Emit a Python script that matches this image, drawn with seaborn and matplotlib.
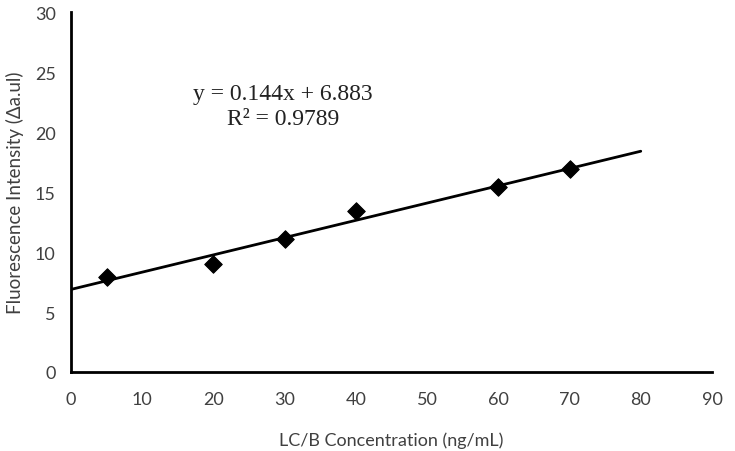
import matplotlib
matplotlib.use('Agg')
import matplotlib.pyplot as plt
import seaborn as sns
import pandas as pd
import numpy as np

# 数据
concentration = [5, 20, 30, 40, 60, 70]
intensity = [7.9, 9.0, 11.1, 13.45, 15.45, 16.9]
slope = 0.144
intercept = 6.883
r_squared = 0.9789
line_x = [0, 80]

sns.set_style('white')
plt.rcParams['font.family'] = ['Lato', 'DejaVu Sans']

df = pd.DataFrame({'x': concentration, 'y': intensity})
line_df = pd.DataFrame({'x': line_x, 'y': [slope * v + intercept for v in line_x]})

fig = plt.figure(figsize=(7.35, 4.52), dpi=100)
ax = fig.add_axes([0.0966, 0.1748, 0.8721, 0.7962])

sns.lineplot(x='x', y='y', data=line_df, color='black', linewidth=2, ax=ax)
sns.scatterplot(x='x', y='y', data=df, marker='D', s=80, color='black',
                edgecolor='black', zorder=3, ax=ax)

ax.set_xlim(0, 90)
ax.set_ylim(0, 30)
ax.set_xticks(range(0, 91, 10))
ax.set_yticks(range(0, 31, 5))
ax.tick_params(direction='in', length=5, width=1.5, labelsize=13,
               labelcolor='#404040')
ax.tick_params(axis='x', pad=14)
ax.tick_params(axis='y', pad=11)
for side in ['top', 'right']:
    ax.spines[side].set_visible(False)
for side in ['left', 'bottom']:
    ax.spines[side].set_linewidth(2)
    ax.spines[side].set_color('black')

ax.set_xlabel('LC/B Concentration (ng/mL)', fontsize=13, color='#404040', labelpad=17)
ax.set_ylabel('Fluorescence Intensity (Δa.ul)', fontsize=13.5, color='#404040', labelpad=8)

ax.text(29.8, 23.2, f'y = {slope}x + {intercept}', fontsize=17,
        family='Liberation Serif', ha='center', va='center', color='#222222')
ax.text(29.8, 21.1, f'R² = {r_squared}', fontsize=17,
        family='Liberation Serif', ha='center', va='center', color='#222222')

fig.savefig('out.png', dpi=100)
